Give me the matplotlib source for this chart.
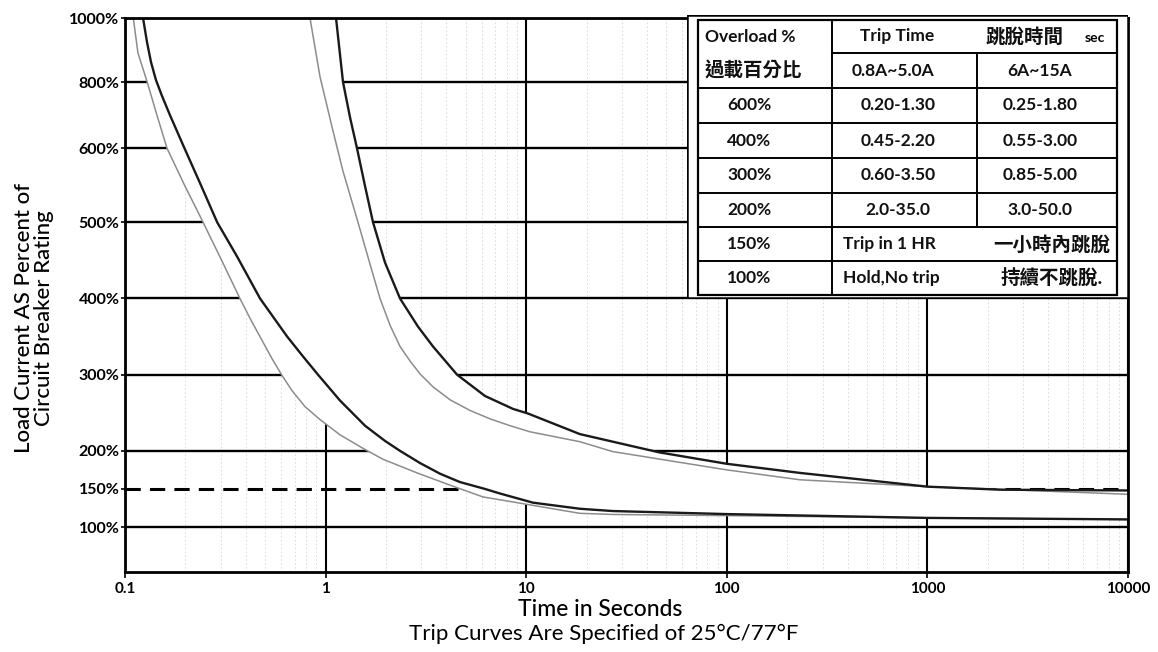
#!/usr/bin/env python3
import matplotlib

matplotlib.use("Agg")
import matplotlib.pyplot as plt
import numpy as np
from matplotlib.patches import Rectangle

plt.rcParams["font.family"] = ["Lato", "Noto Sans CJK TC", "DejaVu Sans"]

# trip curves: time (s) vs load current (% of rating)
L1_T = [0.110, 0.116, 0.129, 0.1443, 0.162, 0.199, 0.245, 0.3045, 0.374, 0.4198, 0.4819, 0.5405,
        0.6062, 0.680, 0.7897, 0.938, 1.18, 1.519, 1.93, 2.86, 4.17, 6.09, 9.0, 18.5, 27, 100,
        1000, 10000]
L1_P = [1000, 891, 800, 700, 600, 549, 500, 449, 400, 374, 345, 321,
        299, 279, 258, 241, 221, 204, 189, 171, 155, 139.5, 132, 118, 116.5, 115,
        112, 110]

L2_T = [0.123, 0.1287, 0.1348, 0.1427, 0.1529, 0.1676, 0.195, 0.2365, 0.288, 0.362, 0.471, 0.643,
        0.771, 0.916, 1.18, 1.572, 1.978, 2.349, 2.955, 3.718, 4.677, 6.23, 7.4, 10.8, 18.5, 27,
        100, 1000, 10000]
L2_P = [1000, 925, 862, 806, 758, 700, 609, 553, 500, 455, 400, 350,
        324, 300, 266, 233, 213, 200, 184, 170, 159, 150, 144, 132, 124, 121,
        117, 112, 110]

R1_T = [0.836, 0.938, 1.089, 1.221, 1.45, 1.703, 1.867, 2.094, 2.349, 2.634, 2.955, 3.43, 4.171,
        5.246, 6.6, 8.306, 10.44, 18.5, 27, 100, 232, 1000, 10000]
R1_P = [1000, 816, 652, 569, 500, 436, 400, 365, 337, 318, 301, 284, 267,
        253, 242, 233, 225, 212, 199, 175, 162, 153, 143]

R2_T = [1.127, 1.221, 1.323, 1.434, 1.572, 1.723, 1.978, 2.349, 2.888, 3.43, 4.519, 6.23, 8.6,
        10.2, 18.5, 46, 100, 232, 1000, 2300, 10000]
R2_P = [1000, 800, 694, 600, 549, 500, 447, 400, 363, 337, 300, 272, 255,
        249, 222, 198, 183, 171, 153, 149, 148]

X_TICKS = [0.1, 1, 10, 100, 1000, 10000]
X_TICK_LABELS = ["0.1", "1", "10", "100", "1000", "10000"]
Y_TICKS = [100, 150, 200, 300, 400, 500, 600, 800, 1000]
Y_TICK_LABELS = ["100%", "150%", "200%", "300%", "400%", "500%", "600%", "800%", "1000%"]

TABLE_HEAD = ["Overload %", "過載百分比", "Trip Time", "跳脫時間", "sec", "0.8A~5.0A", "6A~15A"]
TABLE_PCT = ["600%", "400%", "300%", "200%", "150%", "100%"]
TRIP_SMALL = ["0.20-1.30", "0.45-2.20", "0.60-3.50", "2.0-35.0"]
TRIP_LARGE = ["0.25-1.80", "0.55-3.00", "0.85-5.00", "3.0-50.0"]
TRIP_NOTES = [("Trip in 1 HR", "一小時內跳脫"), ("Hold,No trip", "持續不跳脫.")]

# the printed y axis is not uniform: piecewise spacing of the gridlines
Y_KNOT_VALUES = [0, 100, 200, 300, 400, 500, 600, 800, 1000, 1200]
Y_KNOT_POS = [-1.0, 0.0, 1.0, 2.0, 3.0, 4.0, 4.97, 5.84, 6.68, 7.52]


def _fwd(v):
    return np.interp(v, Y_KNOT_VALUES, Y_KNOT_POS)


def _inv(p):
    return np.interp(p, Y_KNOT_POS, Y_KNOT_VALUES)


def _draw_table(fig):
    W, H = 1158, 652
    x0, x1, y0, y1 = 687, 1128, 15, 298
    tab = fig.add_axes([x0 / W, 1 - y1 / H, (x1 - x0) / W, (y1 - y0) / H])
    tab.set_xlim(x0, x1)
    tab.set_ylim(y1, y0)
    tab.axis("off")
    tab.add_patch(Rectangle((x0, y0), x1 - x0, y1 - y0, facecolor="white",
                            edgecolor="black", linewidth=1.8))
    lx, rx, c1, c2 = 698, 1117, 832, 977
    rows = [20, 53, 88, 123, 158, 193, 227, 261, 295]
    tab.add_patch(Rectangle((lx, rows[0]), rx - lx, rows[-1] - rows[0],
                            facecolor="none", edgecolor="black", linewidth=1.6))
    tab.plot([c1, rx], [rows[1], rows[1]], color="black", lw=1.4)
    for y in rows[2:-1]:
        tab.plot([lx, rx], [y, y], color="black", lw=1.4)
    tab.plot([c1, c1], [rows[0], rows[-1]], color="black", lw=1.4)
    tab.plot([c2, c2], [rows[1], rows[6]], color="black", lw=1.4)

    kw = dict(va="center", fontsize=12.5, fontweight="bold", color="#111111")
    ck = dict(va="center", fontsize=14, fontweight="bold", color="#111111")
    mid = [(rows[i] + rows[i + 1]) / 2 for i in range(len(rows) - 1)]
    tab.text(705, mid[0], TABLE_HEAD[0], ha="left", **kw)
    tab.text(705, mid[1], TABLE_HEAD[1], ha="left", **ck)
    tab.text(897, mid[0], TABLE_HEAD[2], ha="center", **kw)
    tab.text(1024, mid[0], TABLE_HEAD[3], ha="center", **ck)
    tab.text(1095, mid[0] + 1, TABLE_HEAD[4], ha="center", va="center",
             fontsize=10, fontweight="bold")
    tab.text(893, mid[1], TABLE_HEAD[5], ha="center", **kw)
    tab.text(1040, mid[1], TABLE_HEAD[6], ha="center", **kw)
    for i, pct in enumerate(TABLE_PCT):
        tab.text(727, mid[i + 2], pct, ha="left", **kw)
    for i, (a, b) in enumerate(zip(TRIP_SMALL, TRIP_LARGE)):
        tab.text(898, mid[i + 2], a, ha="center", **kw)
        tab.text(1040, mid[i + 2], b, ha="center", **kw)
    for i, (en, zh) in enumerate(TRIP_NOTES):
        tab.text(843, mid[i + 6], en, ha="left", **kw)
        tab.text(1052, mid[i + 6], zh, ha="center", **ck)


def main():
    fig = plt.figure(figsize=(11.58, 6.52), dpi=100)
    ax = fig.add_axes([125 / 1158, 80 / 652, 1003 / 1158, 554 / 652])

    ax.set_xscale("log")
    ax.set_yscale("function", functions=(_fwd, _inv))
    ax.set_xlim(0.1, 10000)
    ax.set_ylim(41, 1000)

    ax.grid(axis="x", which="minor", color="#d9d9d9", lw=0.7, ls=(0, (1.5, 2.5)), zorder=0)
    ax.grid(axis="x", which="major", color="black", lw=1.5, zorder=1)
    ax.set_axisbelow(True)
    for v in Y_TICKS:
        ax.axhline(v, color="black", lw=1.7 if v != 150 else 2.2,
                   ls="-" if v != 150 else (0, (5, 3)), zorder=1)

    # blank band between the outermost curves hides the grid
    ax.fill(np.concatenate([L1_T, R2_T[::-1]]), np.concatenate([L1_P, R2_P[::-1]]),
            color="white", lw=0, zorder=2)

    ax.plot(L1_T, L1_P, color="#8c8c8c", lw=1.1, zorder=3)
    ax.plot(L2_T, L2_P, color="#1a1a1a", lw=1.7, zorder=3)
    ax.plot(R1_T, R1_P, color="#8c8c8c", lw=1.1, zorder=3)
    ax.plot(R2_T, R2_P, color="#1a1a1a", lw=1.7, zorder=3)

    ax.set_xticks(X_TICKS)
    ax.set_xticklabels(X_TICK_LABELS)
    ax.xaxis.set_minor_formatter(plt.NullFormatter())
    ax.set_yticks(Y_TICKS)
    ax.set_yticklabels(Y_TICK_LABELS)
    ax.tick_params(axis="x", which="major", length=4, width=1.2, labelsize=11, pad=3)
    ax.tick_params(axis="y", which="major", length=3, width=1.2, labelsize=11.5, pad=1)
    ax.tick_params(axis="x", which="minor", length=0)
    for lab in ax.get_xticklabels() + ax.get_yticklabels():
        lab.set_fontweight("bold")
    for sp in ax.spines.values():
        sp.set_linewidth(2.0)
        sp.set_zorder(5)

    fig.text(600 / 1158, 1 - 610 / 652, "Time in Seconds", ha="center", va="center",
             fontsize=16.5, fontweight="medium")
    fig.text(604 / 1158, 1 - 634 / 652, "Trip Curves Are Specified of 25°C/77°F",
             ha="center", va="center", fontsize=16)
    fig.text(34 / 1158, 1 - 318 / 652, "Load Current AS Percent of\nCircuit Breaker Rating",
             ha="center", va="center", rotation=90, fontsize=16, linespacing=1.05,
             fontweight="medium")

    _draw_table(fig)

    fig.savefig("out.png", dpi=100)
    plt.close(fig)


if __name__ == "__main__":
    main()
